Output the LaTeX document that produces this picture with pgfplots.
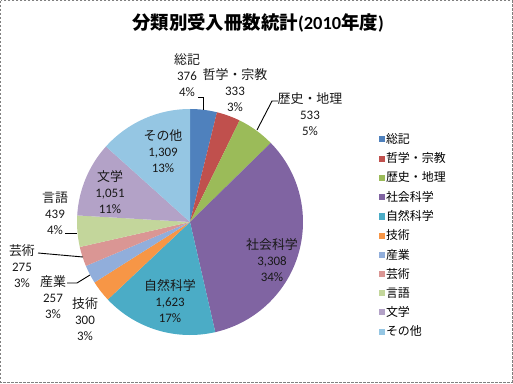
\documentclass[border=0pt]{standalone}
\usepackage{pgfplots}
\pgfplotsset{compat=1.18}
\usepackage{pgfplotstable}
\usepackage{fontspec}
\setmainfont{Noto Sans CJK JP}
\newfontfamily\lat{Carlito}
\definecolor{c1}{HTML}{4F81BD}
\definecolor{c2}{HTML}{C0504D}
\definecolor{c3}{HTML}{9BBB59}
\definecolor{c4}{HTML}{8064A2}
\definecolor{c5}{HTML}{4BACC6}
\definecolor{c6}{HTML}{F79646}
\definecolor{c7}{HTML}{91AEDB}
\definecolor{c8}{HTML}{DA9694}
\definecolor{c9}{HTML}{C3D69B}
\definecolor{c10}{HTML}{B3A2C7}
\definecolor{c11}{HTML}{95C6E3}
\pgfplotstableread{
val col
376 c1
333 c2
533 c3
3308 c4
1623 c5
300 c6
257 c7
275 c8
439 c9
1051 c10
1309 c11
}\piedata
\begin{document}
\begin{tikzpicture}[x=1bp,y=1bp]
\useasboundingbox (0,0) rectangle (513,383);
\begin{axis}[
  at={(190bp,161bp)}, anchor=origin,
  scale only axis, width=226bp, height=226bp,
  xmin=-1, xmax=1, ymin=-1, ymax=1,
  hide axis, clip=false,
  legend image code/.code={\fill[#1] (0bp,-2.6bp) rectangle (5.2bp,2.6bp);},
  legend style={draw=none, fill=none, at={(1.335,0.90)}, anchor=north west,
    font=\fontsize{12}{12}\selectfont, cells={anchor=west}, row sep=4.7bp,
    inner sep=0pt, nodes={inner sep=1.5bp}},
]
\pgfplotstablegetrowsof{\piedata}
\pgfmathtruncatemacro\nrows{\pgfplotsretval-1}
\def\total{0}
\pgfplotsforeachungrouped \i in {0,...,\nrows}{%
  \pgfplotstablegetelem{\i}{val}\of\piedata
  \pgfmathsetmacro\total{\total+\pgfplotsretval}%
}
\def\cum{0}
\pgfplotsforeachungrouped \i in {0,...,\nrows}{%
  \pgfplotstablegetelem{\i}{val}\of\piedata \let\v\pgfplotsretval
  \pgfplotstablegetelem{\i}{col}\of\piedata \let\c\pgfplotsretval
  \pgfmathsetmacro\aone{90-360*(\cum/\total)}%
  \pgfmathsetmacro\cum{\cum+\v}%
  \pgfmathsetmacro\atwo{90-360*(\cum/\total)}%
  \pgfmathsetmacro\xa{cos(\aone)}%
  \pgfmathsetmacro\ya{sin(\aone)}%
  \edef\temp{\noexpand\fill[\c] (axis cs:0,0) -- (axis cs:\xa,\ya) arc[start angle=\aone, end angle=\atwo, radius=113bp] -- cycle;}%
  \temp
}
\addlegendimage{c1}\addlegendentry{総記}
\addlegendimage{c2}\addlegendentry{哲学・宗教}
\addlegendimage{c3}\addlegendentry{歴史・地理}
\addlegendimage{c4}\addlegendentry{社会科学}
\addlegendimage{c5}\addlegendentry{自然科学}
\addlegendimage{c6}\addlegendentry{技術}
\addlegendimage{c7}\addlegendentry{産業}
\addlegendimage{c8}\addlegendentry{芸術}
\addlegendimage{c9}\addlegendentry{言語}
\addlegendimage{c10}\addlegendentry{文学}
\addlegendimage{c11}\addlegendentry{その他}
\end{axis}
\begin{scope}[yshift=383bp, yscale=-1]
\draw[gray, line width=1.2bp, dash pattern=on 2.5bp off 1.5bp] (0.8,0.8) rectangle (512.2,382.2);
\node[font=\fontsize{18.5}{20}\selectfont\bfseries] at (258,23) {分類別受入冊数統計{\lat (2010}年度{\lat )}};
\begin{scope}[every node/.style={align=center, font=\fontsize{13}{16}\selectfont, text=black!90}]
\node at (187,75) {総記\\{\lat 376}\\{\lat 4\%}};
\node at (235,90) {哲学・宗教\\{\lat 333}\\{\lat 3\%}};
\node at (310,114) {歴史・地理\\{\lat 533}\\{\lat 5\%}};
\node at (272,260) {社会科学\\{\lat 3,308}\\{\lat 34\%}};
\node at (170,301) {自然科学\\{\lat 1,623}\\{\lat 17\%}};
\node at (163,151) {その他\\{\lat 1,309}\\{\lat 13\%}};
\node at (110,192) {文学\\{\lat 1,051}\\{\lat 11\%}};
\node at (55,213) {言語\\{\lat 439}\\{\lat 4\%}};
\node at (22,266) {芸術\\{\lat 275}\\{\lat 3\%}};
\node at (53,297) {産業\\{\lat 257}\\{\lat 3\%}};
\node at (85,319) {技術\\{\lat 300}\\{\lat 3\%}};
\end{scope}
\begin{scope}[line width=0.9bp]
\draw (198,97) -- (203,97) -- (203,110);
\draw (278,101) -- (272,101) -- (257,130);
\draw (65,233) -- (77,233);
\draw (38,253) -- (83,257);
\draw (67,283) -- (77,283) -- (90,275);
\end{scope}
\end{scope}
\end{tikzpicture}
\end{document}
